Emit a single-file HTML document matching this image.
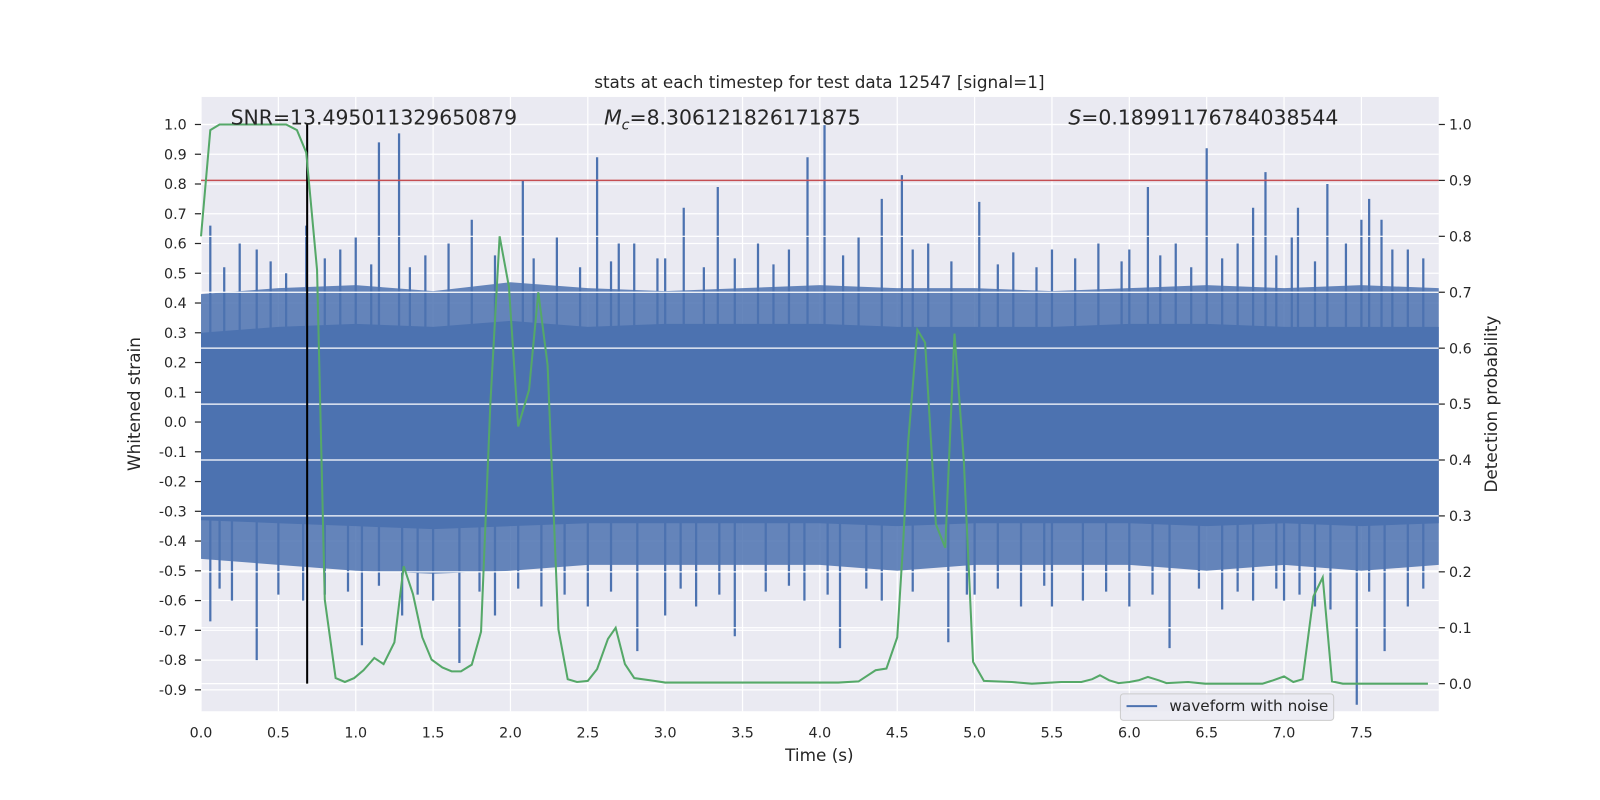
<!DOCTYPE html>
<html><head><meta charset="utf-8"><style>
html,body{margin:0;padding:0;background:#fff;overflow:hidden;width:1600px;height:800px;}
svg{display:block;}
svg text{font-family:"DejaVu Sans","Liberation Sans",sans-serif;fill:#262626;}
</style></head><body>
<svg id="chart" width="1600" height="800" viewBox="0 0 1600 800" xmlns="http://www.w3.org/2000/svg">
<rect width="1600" height="800" fill="#fff"/>
<g transform="scale(1.0204)">
<g id="plot"></g>
<text x="803" y="86" font-size="16.5" text-anchor="middle">stats at each timestep for test data 12547 [signal=1]</text>
<text x="226" y="122" font-size="20">SNR=13.495011329650879</text>
<text x="592" y="122" font-size="20"><tspan font-style="italic">M</tspan><tspan font-size="14" font-style="italic" dy="5">c</tspan><tspan dy="-5">=8.306121826171875</tspan></text>
<text x="1047" y="122" font-size="20"><tspan font-style="italic">S</tspan>=0.18991176784038544</text>
<text x="803" y="746" font-size="16.5" text-anchor="middle">Time (s)</text>
<text x="137" y="396" font-size="16.5" text-anchor="middle" transform="rotate(-90 137 396)">Whitened strain</text>
<text x="1467" y="396" font-size="16.5" text-anchor="middle" transform="rotate(-90 1467 396)">Detection probability</text>
<g>
<rect x="1098" y="680" width="209" height="26" rx="3" fill="#eaeaf2" fill-opacity="0.85" stroke="#ccc"/>
<line x1="1104" x2="1134" y1="692" y2="692" stroke="#4c72b0" stroke-width="2"/>
<text x="1146" y="697" font-size="15">waveform with noise</text>
</g>
</g>
</svg>
<script>
// ---- data ----
const xTicks=[0,0.5,1,1.5,2,2.5,3,3.5,4,4.5,5,5.5,6,6.5,7,7.5];
const xTickLabels=["0.0","0.5","1.0","1.5","2.0","2.5","3.0","3.5","4.0","4.5","5.0","5.5","6.0","6.5","7.0","7.5"];
const leftTicks=[1.0,0.9,0.8,0.7,0.6,0.5,0.4,0.3,0.2,0.1,0.0,-0.1,-0.2,-0.3,-0.4,-0.5,-0.6,-0.7,-0.8,-0.9];
const rightTicks=[1.0,0.9,0.8,0.7,0.6,0.5,0.4,0.3,0.2,0.1,0.0];
const bandTimes=[0,0.5,1,1.5,2,2.5,3,3.5,4,4.5,5,5.5,6,6.5,7,7.5,8];
const bandTop=[0.30,0.32,0.33,0.32,0.34,0.32,0.33,0.33,0.33,0.32,0.32,0.32,0.33,0.33,0.32,0.32,0.32];
const bandBot=[-0.33,-0.34,-0.35,-0.36,-0.35,-0.34,-0.34,-0.34,-0.34,-0.35,-0.34,-0.34,-0.34,-0.35,-0.34,-0.35,-0.34];
const outerTop=[0.43,0.45,0.46,0.44,0.47,0.45,0.44,0.45,0.46,0.45,0.45,0.44,0.45,0.46,0.45,0.46,0.45];
const outerBot=[-0.46,-0.48,-0.50,-0.51,-0.50,-0.48,-0.48,-0.48,-0.48,-0.50,-0.48,-0.48,-0.48,-0.50,-0.48,-0.50,-0.48];
const upTimes=[0.06,0.36,0.68,1.0,1.15,1.28,1.6,1.75,2.08,2.3,2.56,2.8,3.12,3.34,3.6,3.92,4.03,4.25,4.4,4.53,5.03,5.5,5.8,6.12,6.3,6.5,6.7,6.8,6.88,7.05,7.09,7.28,7.4,7.5,7.55,7.63,0.25,0.9,1.45,2.7,3.0,3.8,4.7,5.25,6.0,7.8,0.15,0.45,0.55,0.8,1.1,1.35,1.9,2.15,2.45,2.65,2.95,3.25,3.45,3.7,4.15,4.6,4.85,5.15,5.4,5.65,5.95,6.2,6.4,6.6,6.95,7.2,7.7,7.9];
const upVals=[0.66,0.58,0.66,0.62,0.94,0.97,0.60,0.68,0.81,0.62,0.89,0.60,0.72,0.79,0.60,0.89,1.0,0.62,0.75,0.83,0.74,0.58,0.60,0.79,0.60,0.92,0.60,0.72,0.84,0.62,0.72,0.80,0.60,0.68,0.75,0.68,0.60,0.58,0.56,0.60,0.55,0.58,0.60,0.57,0.58,0.58,0.52,0.54,0.50,0.55,0.53,0.52,0.56,0.55,0.52,0.54,0.55,0.52,0.55,0.53,0.56,0.58,0.54,0.53,0.52,0.55,0.54,0.56,0.52,0.55,0.56,0.54,0.58,0.55];
const dnTimes=[0.06,0.36,0.66,1.04,1.3,1.67,1.9,2.2,2.82,3.0,3.45,3.9,4.13,4.83,5.3,5.7,6.0,6.26,6.6,7.0,7.3,7.47,7.65,7.8,0.2,0.8,1.5,2.5,3.2,4.4,5.0,5.5,6.8,7.2,0.12,0.5,0.95,1.15,1.4,1.8,2.05,2.35,2.65,3.1,3.35,3.65,3.8,4.05,4.3,4.6,4.95,5.15,5.45,5.85,6.15,6.45,6.7,6.95,7.1,7.55,7.9];
const dnVals=[-0.67,-0.80,-0.60,-0.75,-0.65,-0.81,-0.65,-0.62,-0.77,-0.65,-0.72,-0.60,-0.76,-0.74,-0.62,-0.60,-0.62,-0.76,-0.63,-0.60,-0.63,-0.95,-0.77,-0.62,-0.60,-0.58,-0.60,-0.62,-0.62,-0.60,-0.58,-0.62,-0.60,-0.62,-0.56,-0.58,-0.57,-0.55,-0.58,-0.57,-0.56,-0.58,-0.57,-0.56,-0.58,-0.57,-0.55,-0.58,-0.56,-0.57,-0.58,-0.56,-0.55,-0.57,-0.58,-0.56,-0.57,-0.56,-0.58,-0.57,-0.56];
const probTimes=[0,0.06,0.12,0.55,0.62,0.68,0.75,0.80,0.87,0.93,0.99,1.05,1.12,1.18,1.25,1.31,1.37,1.43,1.49,1.56,1.62,1.68,1.75,1.81,1.87,1.93,1.99,2.05,2.12,2.18,2.24,2.31,2.37,2.43,2.50,2.56,2.63,2.68,2.74,2.80,2.93,3.0,3.87,4.12,4.25,4.36,4.43,4.50,4.54,4.57,4.63,4.68,4.75,4.81,4.87,4.93,4.99,5.06,5.24,5.37,5.56,5.69,5.76,5.81,5.87,5.93,6.00,6.06,6.12,6.19,6.24,6.38,6.49,6.86,6.93,7.00,7.06,7.12,7.19,7.25,7.31,7.38,7.93];
const probVals=[0.80,0.99,1.0,1.0,0.99,0.95,0.74,0.15,0.01,0.003,0.01,0.024,0.046,0.035,0.074,0.21,0.16,0.083,0.043,0.029,0.022,0.022,0.034,0.093,0.50,0.80,0.71,0.46,0.525,0.70,0.57,0.097,0.008,0.003,0.005,0.026,0.08,0.10,0.035,0.01,0.005,0.002,0.002,0.002,0.004,0.024,0.027,0.083,0.26,0.43,0.633,0.61,0.285,0.243,0.626,0.40,0.039,0.005,0.003,0.0,0.003,0.003,0.008,0.015,0.006,0.001,0.003,0.006,0.012,0.006,0.001,0.003,0.0,0.0,0.006,0.013,0.003,0.008,0.156,0.19,0.004,0.0,0.0];
const thresholdVal=[0.9];
const markerTime=[0.686];

// ---- axes ----
const L=197,R=1410,T=95,B=697;
const xs=t=>L+t*(R-L)/8;
const yl=v=>413.6-v*291.6;
const yr=p=>670-p*548;
const NS="http://www.w3.org/2000/svg";
const g=document.getElementById('plot');
function mk(tag,attrs,parent){const e=document.createElementNS(NS,tag);for(const k in attrs)e.setAttribute(k,attrs[k]);(parent||g).appendChild(e);return e;}

let e=mk('rect',{x:L,y:T,width:R-L,height:B-T,fill:'#eaeaf2'});



const grid=mk('g',{stroke:'#fff','stroke-width':1.2});


xTicks.forEach(t=>mk('line',{x1:xs(t),x2:xs(t),y1:T,y2:B},grid));
leftTicks.forEach(v=>mk('line',{x1:L,x2:R,y1:yl(v),y2:yl(v)},grid));

const wf=mk('g',{});


let op='',ip='';
bandTimes.forEach((t,i)=>{op+=(i?'L':'M')+xs(t)+','+yl(outerTop[i]);ip+=(i?'L':'M')+xs(t)+','+yl(bandTop[i]);});
for(let i=bandTimes.length-1;i>=0;i--){op+='L'+xs(bandTimes[i])+','+yl(outerBot[i]);ip+='L'+xs(bandTimes[i])+','+yl(bandBot[i]);}
mk('path',{d:op+'Z',fill:'#4c72b0',opacity:0.85},wf);
mk('path',{d:ip+'Z',fill:'#4c72b0'},wf);
upTimes.forEach((t,i)=>mk('line',{x1:xs(t),x2:xs(t),y1:yl(0.3),y2:yl(upVals[i]),stroke:'#4c72b0','stroke-width':2.2},wf));
dnTimes.forEach((t,i)=>mk('line',{x1:xs(t),x2:xs(t),y1:yl(-0.3),y2:Math.min(yl(dnVals[i]),B),stroke:'#4c72b0','stroke-width':2.2},wf));

const grid2=mk('g',{stroke:'#fff','stroke-width':1.2});


rightTicks.forEach(p=>mk('line',{x1:L,x2:R,y1:yr(p),y2:yr(p)},grid2));

e=mk('line',{x1:L,x2:R,y1:yr(thresholdVal[0]),y2:yr(thresholdVal[0]),stroke:'#c44e52','stroke-width':1.5});


e=mk('line',{x1:xs(markerTime[0]),x2:xs(markerTime[0]),y1:yr(1),y2:yr(0),stroke:'#000','stroke-width':2});


let pd='';probTimes.forEach((t,i)=>pd+=(i?'L':'M')+xs(t)+','+yr(probVals[i]));
e=mk('path',{d:pd,fill:'none',stroke:'#55a868','stroke-width':2});



const tk=mk('g',{});


xTicks.forEach((t,i)=>{const x=xs(t);mk('text',{x:x,y:723,'font-size':14,'text-anchor':'middle'},tk).textContent=xTickLabels[i];});
const lt=mk('g',{});


leftTicks.forEach(v=>{const y=yl(v);mk('line',{x1:L-6,x2:L,y1:y,y2:y,stroke:'#262626','stroke-width':1.2},lt);mk('text',{x:L-14,y:y+5,'font-size':14,'text-anchor':'end'},lt).textContent=v.toFixed(1);});
const rt=mk('g',{});


rightTicks.forEach(p=>{const y=yr(p);mk('line',{x1:R,x2:R+6,y1:y,y2:y,stroke:'#262626','stroke-width':1.2},rt);mk('text',{x:R+10,y:y+5,'font-size':14},rt).textContent=p.toFixed(1);});
</script>
</body></html>
